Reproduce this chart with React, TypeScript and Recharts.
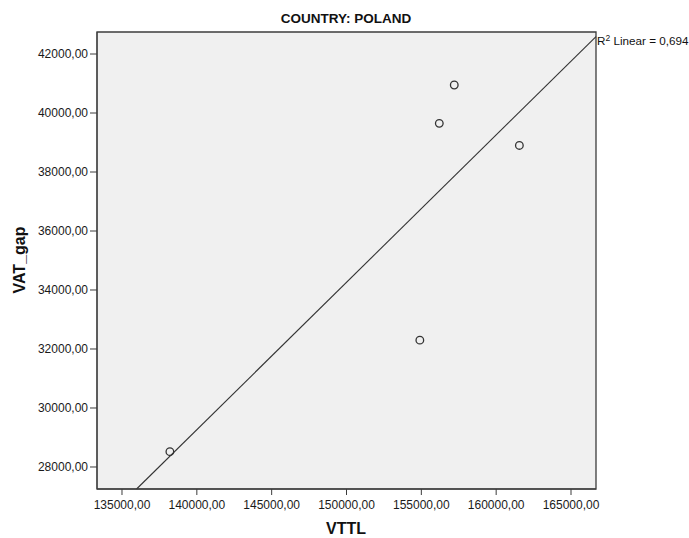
import React from "react";
import {
  ScatterChart,
  Scatter,
  XAxis,
  YAxis,
  CartesianGrid,
  ReferenceArea,
  ReferenceLine,
} from "recharts";

// Observations for Poland: VTTL against VAT_gap
const vttl = [138200, 154900, 156200, 157200, 161550];
const vatGap = [28520, 32300, 39650, 40950, 38900];

const xTicks = [135000, 140000, 145000, 150000, 155000, 160000, 165000];
const yTicks = [28000, 30000, 32000, 34000, 36000, 38000, 40000, 42000];

const xDomain: [number, number] = [133330, 166670];
const yDomain: [number, number] = [27254, 42746];

const chartTitle = "COUNTRY: POLAND";
const xTitle = "VTTL";
const yTitle = "VAT_gap";
const rSquaredText = "0,694";

const points = vttl.map((x, i) => ({ x, y: vatGap[i] }));

// Ordinary least-squares fit of VAT_gap on VTTL
function fitLine(xs: number[], ys: number[]) {
  const n = xs.length;
  const mx = xs.reduce((a, b) => a + b, 0) / n;
  const my = ys.reduce((a, b) => a + b, 0) / n;
  let sxy = 0;
  let sxx = 0;
  for (let i = 0; i < n; i++) {
    sxy += (xs[i] - mx) * (ys[i] - my);
    sxx += (xs[i] - mx) * (xs[i] - mx);
  }
  const slope = sxy / sxx;
  return { slope, intercept: my - slope * mx };
}

// Clip the fitted line to the plotting box (in data units)
function clippedSegment() {
  const { slope, intercept } = fitLine(vttl, vatGap);
  const f = (x: number) => slope * x + intercept;
  const inv = (y: number) => (y - intercept) / slope;
  let x1 = xDomain[0];
  let y1 = f(x1);
  if (y1 < yDomain[0]) {
    y1 = yDomain[0];
    x1 = inv(y1);
  }
  let x2 = xDomain[1];
  let y2 = f(x2);
  if (y2 > yDomain[1]) {
    y2 = yDomain[1];
    x2 = inv(y2);
  }
  return [
    { x: x1, y: y1 },
    { x: x2, y: y2 },
  ];
}

const fmt = (v: number) => v.toFixed(2).replace(".", ",");

const FONT = "'Liberation Sans', Arial, Helvetica, sans-serif";
const AXIS_COLOR = "#3c3c3c";

const HollowDot = (props: any) => {
  const { cx, cy } = props;
  if (cx == null || cy == null) return null;
  return (
    <circle cx={cx} cy={cy} r={3.8} fill="none" stroke="#333" strokeWidth={1.3} />
  );
};

export default function App() {
  const segment = clippedSegment();
  return (
    <div
      style={{
        position: "absolute",
        left: 0,
        top: 0,
        width: 689,
        height: 538,
        background: "#fff",
        fontFamily: FONT,
      }}
    >
      <ScatterChart
        width={689}
        height={538}
        margin={{ top: 32, right: 93, bottom: 0, left: 0 }}
      >
        <CartesianGrid
          horizontal={false}
          vertical={false}
          fill="#f0f0f0"
          fillOpacity={1}
        />
        <XAxis
          type="number"
          dataKey="x"
          domain={xDomain}
          ticks={xTicks}
          tickFormatter={fmt}
          allowDataOverflow
          height={49}
          tickSize={6}
          tickMargin={5}
          stroke={AXIS_COLOR}
          tick={{ fill: "#1a1a1a", fontSize: 12, fontFamily: FONT }}
        />
        <YAxis
          type="number"
          dataKey="y"
          domain={yDomain}
          ticks={yTicks}
          tickFormatter={fmt}
          allowDataOverflow
          width={97}
          tickSize={7}
          tickMargin={2}
          stroke={AXIS_COLOR}
          tick={{ fill: "#1a1a1a", fontSize: 12, fontFamily: FONT }}
        />
        <ReferenceArea
          x1={xDomain[0]}
          x2={xDomain[1]}
          y1={yDomain[0]}
          y2={yDomain[1]}
          fill="none"
          stroke={AXIS_COLOR}
          strokeWidth={1.3}
          ifOverflow="visible"
        />
        <ReferenceLine
          segment={segment}
          stroke="#333"
          strokeWidth={1.1}
          ifOverflow="visible"
        />
        <Scatter data={points} shape={HollowDot} isAnimationActive={false} />
      </ScatterChart>
      <svg
        width={689}
        height={538}
        style={{ position: "absolute", left: 0, top: 0, pointerEvents: "none" }}
      >
        <text
          x={346}
          y={23}
          textAnchor="middle"
          fontFamily={FONT}
          fontWeight="bold"
          fontSize={13.5}
          fill="#111"
        >
          {chartTitle}
        </text>
        <text
          x={346}
          y={534}
          textAnchor="middle"
          fontFamily={FONT}
          fontWeight="bold"
          fontSize={16}
          fill="#111"
        >
          {xTitle}
        </text>
        <text
          x={25}
          y={260}
          textAnchor="middle"
          fontFamily={FONT}
          fontWeight="bold"
          fontSize={16}
          fill="#111"
          transform="rotate(-90, 25, 260)"
        >
          {yTitle}
        </text>
        <text x={597} y={45} fontFamily={FONT} fontSize={11.7} fill="#111">
          R
          <tspan fontSize={8.5} dy={-4}>
            2
          </tspan>
          <tspan dy={4}>{` Linear = ${rSquaredText}`}</tspan>
        </text>
      </svg>
    </div>
  );
}
